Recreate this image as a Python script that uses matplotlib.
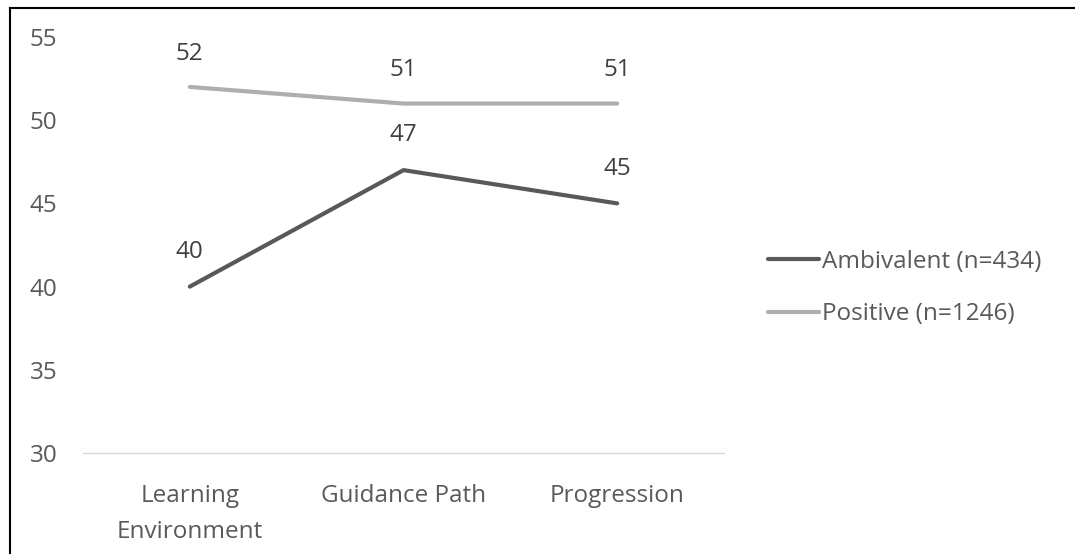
import matplotlib
matplotlib.use("Agg")
import matplotlib.pyplot as plt
from matplotlib.lines import Line2D

categories = ["Learning\nEnvironment", "Guidance Path", "Progression"]
ambivalent = [40, 47, 45]
positive = [52, 51, 51]
series_names = ["Ambivalent (n=434)", "Positive (n=1246)"]
yticks = [30, 35, 40, 45, 50, 55]

plt.rcParams['font.family'] = ['Open Sans', 'DejaVu Sans']

W, H = 1075, 554
FS = 17.5
fig = plt.figure(figsize=(W / 100, H / 100), dpi=100)
ax = fig.add_axes([83 / W, 1 - 453 / H, (724 - 83) / W, (453 - 37) / H])

x = list(range(len(categories)))
dark = '#595959'
light = '#AEAEAE'
ax.plot(x, ambivalent, color=dark, lw=3, solid_capstyle='round', zorder=3)
ax.plot(x, positive, color=light, lw=3, solid_capstyle='round', zorder=3)

for xi, v in zip(x, ambivalent):
    ax.annotate(str(v), (xi, v), xytext=(0, 25), textcoords='offset points',
                ha='center', va='center', fontsize=FS, color='#404040')
for xi, v in zip(x, positive):
    ax.annotate(str(v), (xi, v), xytext=(0, 24), textcoords='offset points',
                ha='center', va='center', fontsize=FS, color='#404040')

ax.set_xlim(-0.5, 2.5)
ax.set_ylim(30, 55)
ax.set_yticks(yticks)
ax.set_xticks(x)
ax.set_xticklabels(categories, fontsize=FS, color='#595959', linespacing=1.7)
ax.tick_params(axis='y', length=0, labelsize=FS, labelcolor='#595959', pad=18.5)
ax.tick_params(axis='x', length=0, pad=22)
for s in ['top', 'right', 'left']:
    ax.spines[s].set_visible(False)
ax.spines['bottom'].set_color('#D9D9D9')
ax.spines['bottom'].set_linewidth(1)

handles = [Line2D([0], [0], color=dark, lw=3, solid_capstyle='round'),
           Line2D([0], [0], color=light, lw=3, solid_capstyle='round')]
fig.legend(handles, series_names, loc='center left',
           bbox_to_anchor=(746 / W, 1 - 288 / H), frameon=False,
           fontsize=FS, labelcolor='#595959', handlelength=2.1,
           handletextpad=0.12, labelspacing=1.19)

# outer frame (top and left edges visible)
fig.add_artist(Line2D([10 / W, 10 / W], [0, 1 - 7.5 / H], color='black', lw=1.5,
                      transform=fig.transFigure))
fig.add_artist(Line2D([10 / W, 1], [1 - 7.5 / H, 1 - 7.5 / H], color='black', lw=1.5,
                      transform=fig.transFigure))

fig.savefig('out.png', dpi=100)
